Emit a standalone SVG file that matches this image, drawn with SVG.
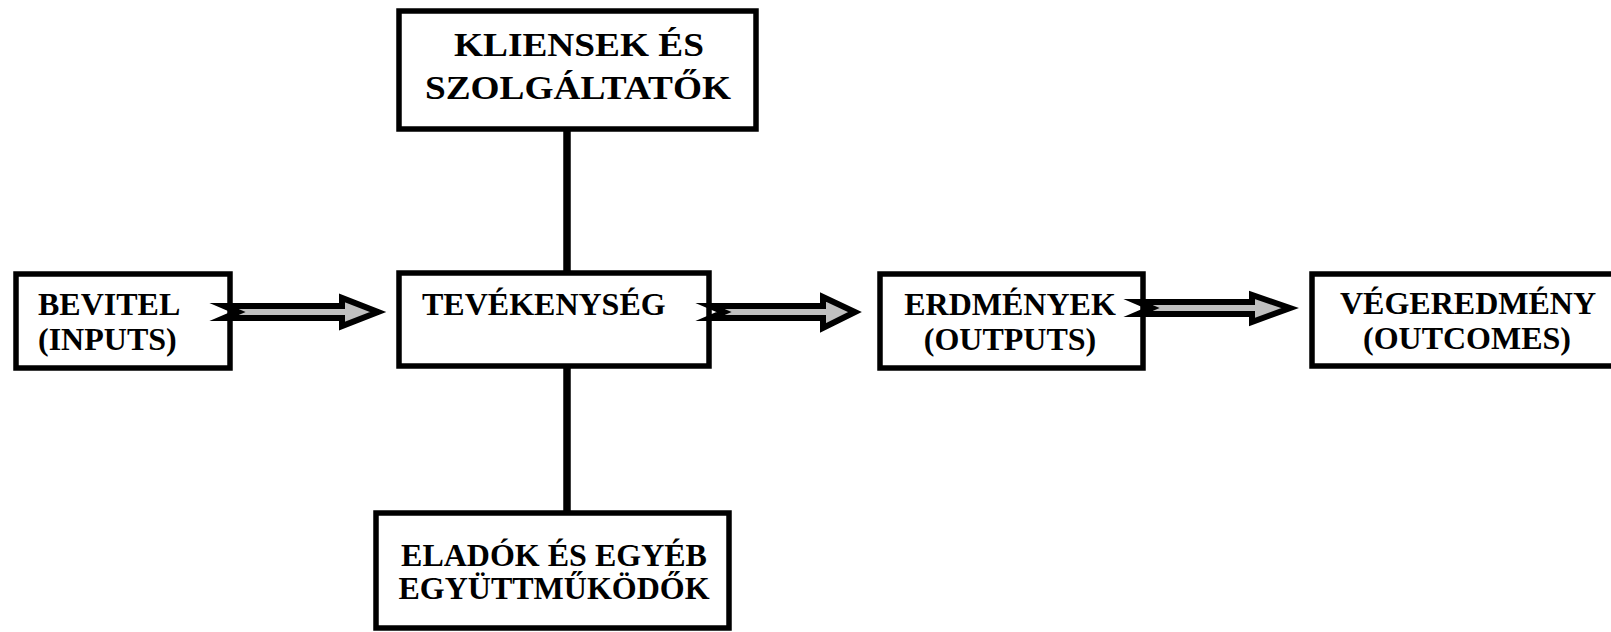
<svg xmlns="http://www.w3.org/2000/svg" width="1611" height="632" viewBox="0 0 1611 632">
<style>
.box{fill:#fff;stroke:#000;stroke-width:5.5}
.t{font-family:"Liberation Serif","Times New Roman",serif;font-weight:bold;font-size:32px;fill:#000}
.big{font-size:33px}
.m{text-anchor:middle}
.arr{fill:#c0c0c0;stroke:#000;stroke-width:6;stroke-linejoin:miter;stroke-miterlimit:10}
.ln{stroke:#000;stroke-width:7.5}
</style>
<rect width="1611" height="632" fill="#fff"/>
<g id="connectors">
<line class="ln" x1="567" y1="128" x2="567" y2="273"/>
<line class="ln" x1="567" y1="366" x2="567" y2="514"/>
</g>
<g id="n-kliensek">
<rect class="box" x="399" y="11" width="357" height="118"/>
<text class="t big" x="454" y="56" textLength="250" lengthAdjust="spacingAndGlyphs">KLIENSEK ÉS</text>
<text class="t big" x="425" y="99" textLength="306" lengthAdjust="spacingAndGlyphs">SZOLGÁLTATŐK</text>
</g>
<g id="n-bevitel">
<rect class="box" x="16" y="274" width="214" height="94"/>
<text class="t" x="38" y="315">BEVITEL</text>
<text class="t" x="38" y="350">(INPUTS)</text>
</g>
<g id="n-tevekenyseg">
<rect class="box" x="399" y="273" width="310" height="93"/>
<text class="t" x="422" y="315">TEVÉKENYSÉG</text>
</g>
<g id="n-erdmenyek">
<rect class="box" x="880" y="274" width="263" height="94"/>
<text class="t m" x="1010" y="315">ERDMÉNYEK</text>
<text class="t m" x="1010" y="350">(OUTPUTS)</text>
</g>
<g id="n-vegeredmeny">
<rect class="box" x="1312" y="274" width="400" height="92"/>
<text class="t m" x="1468" y="314">VÉGEREDMÉNY</text>
<text class="t m" x="1467" y="349">(OUTCOMES)</text>
</g>
<g id="n-eladok">
<rect class="box" x="376" y="513" width="353" height="115"/>
<text class="t m" x="554" y="566">ELADÓK ÉS EGYÉB</text>
<text class="t m" x="554" y="599">EGYÜTTMŰKÖDŐK</text>
</g>
<g id="arrows">
<path class="arr" d="M224,306 L342,306 L342,298 L378,312 L342,326 L342,318 L224,318 L238,312 Z"/>
<path class="arr" d="M710,306 L823,306 L823,297 L855,312 L823,328 L823,318 L710,318 L724,312 Z"/>
<path class="arr" d="M1138,302 L1252,302 L1252,295 L1290,308 L1252,322 L1252,314 L1138,314 L1152,308 Z"/>
</g>
</svg>
